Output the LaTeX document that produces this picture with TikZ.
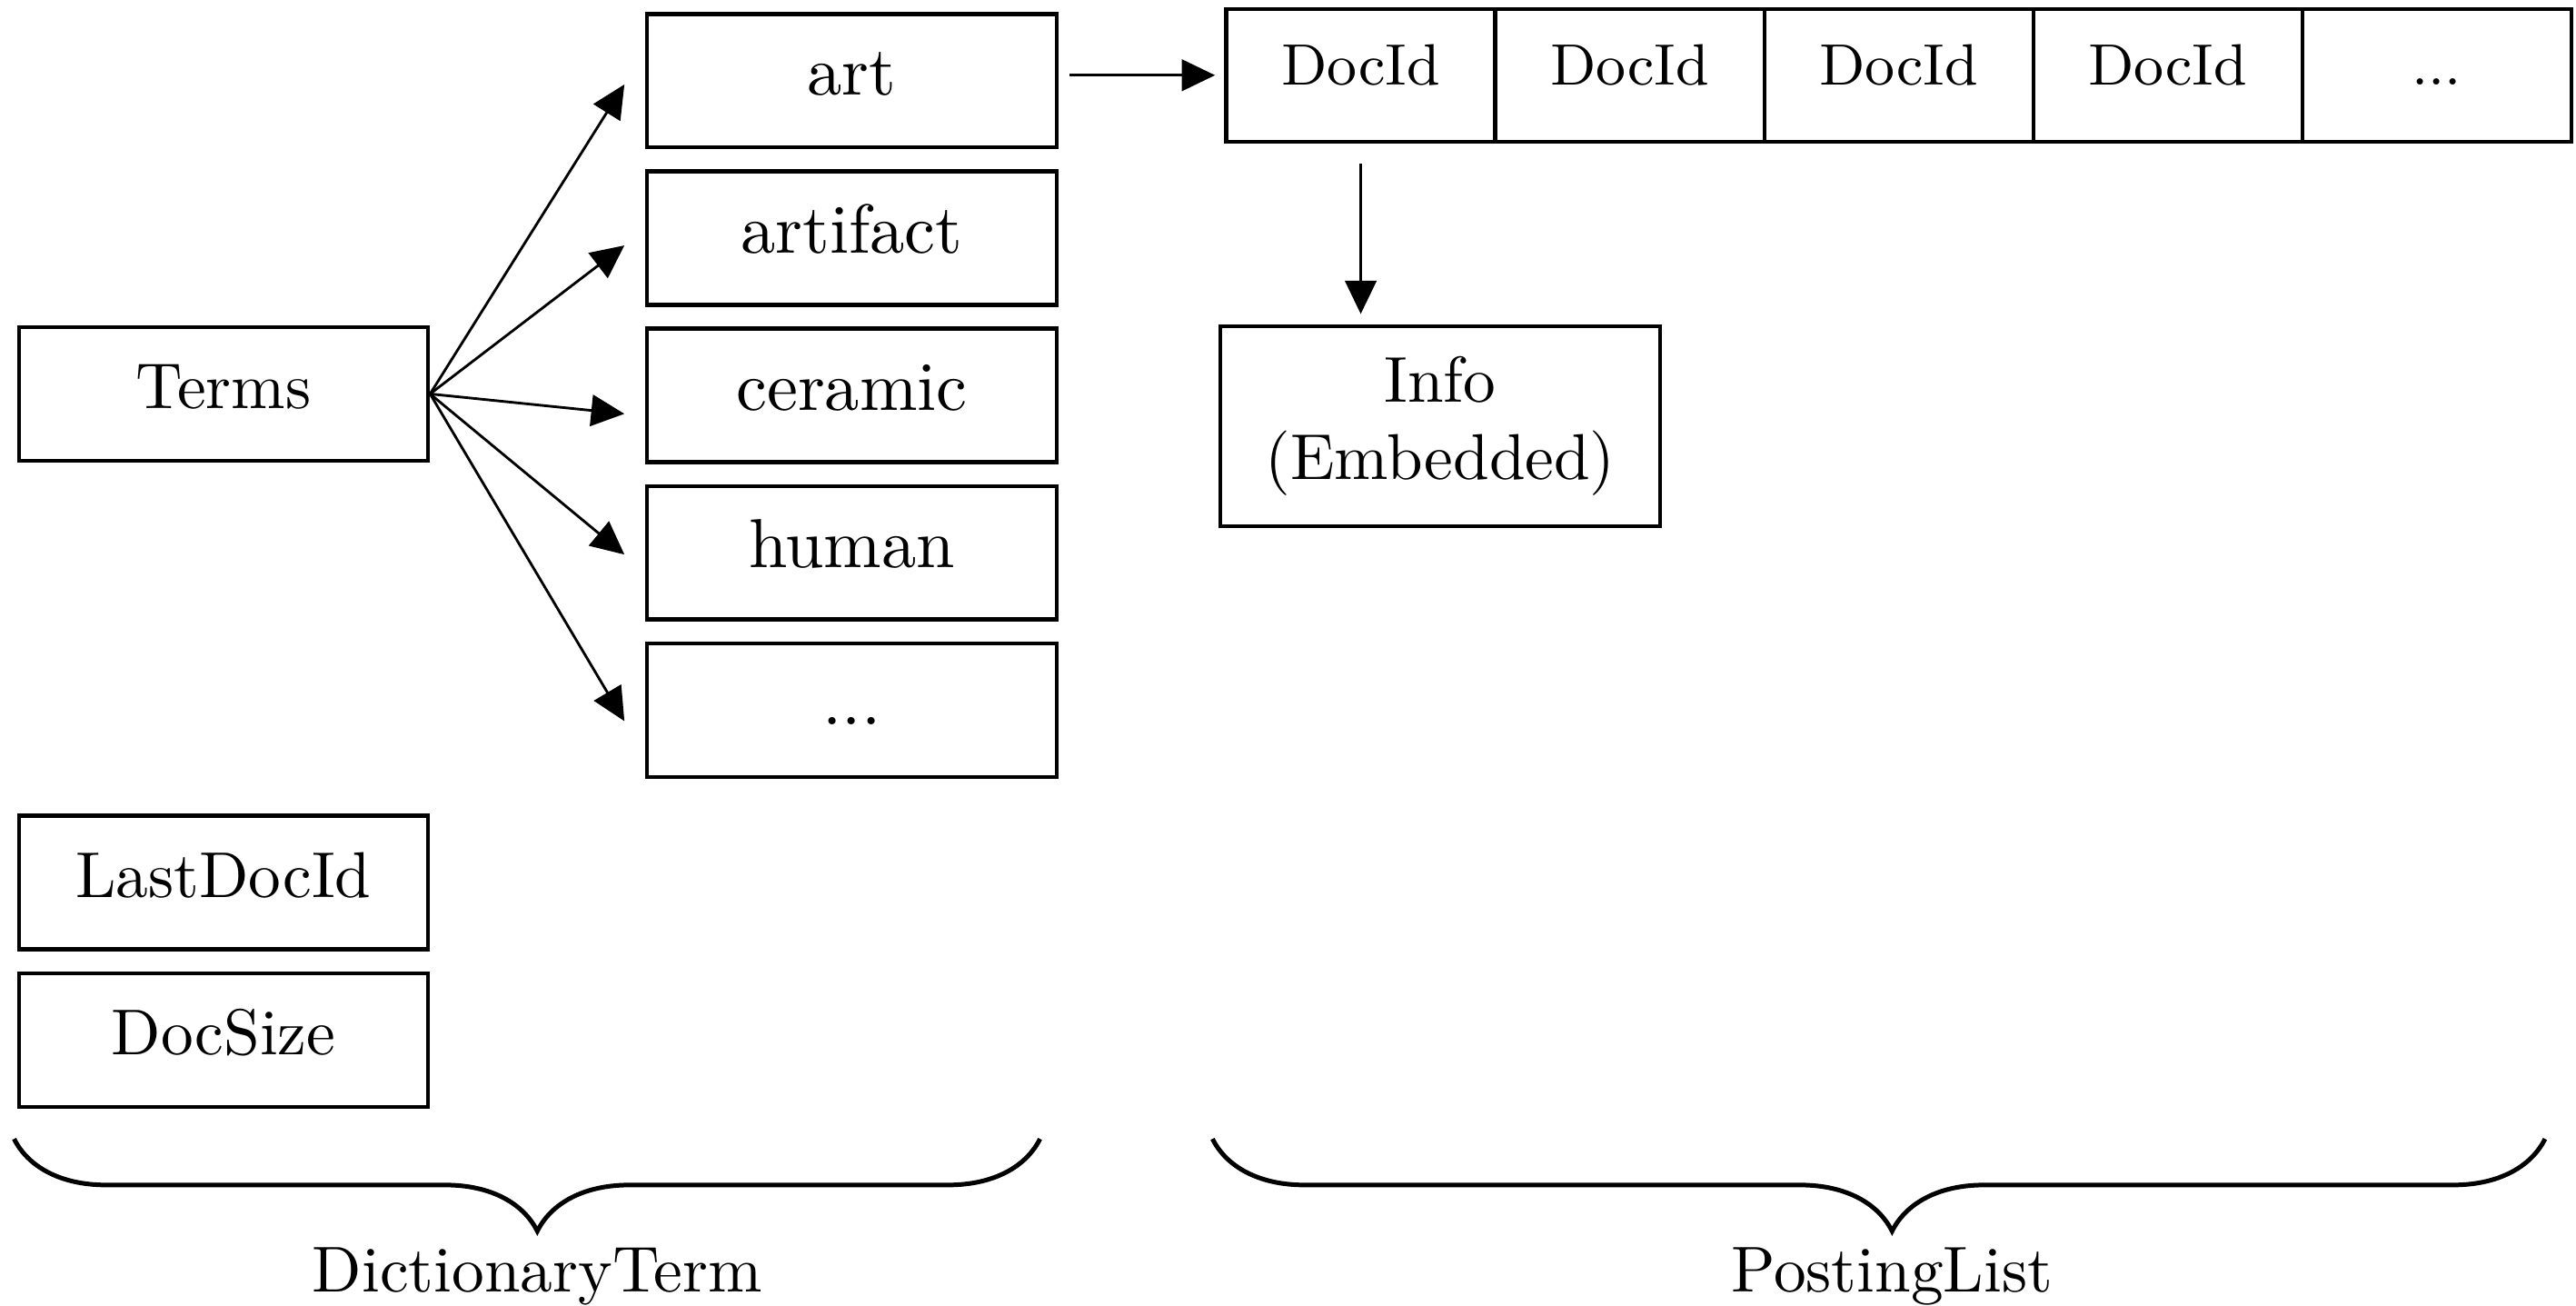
\documentclass[tikz,border=0pt]{standalone}
\usetikzlibrary{positioning, arrows.meta, decorations.pathreplacing}

\begin{document}
\begin{tikzpicture}
    [
        node distance=8.53mm and 14.59mm, on grid,
        field_node/.style={rectangle, draw=black, line width=0.6pt, inner sep=0pt, minimum width=22.2mm, minimum height=7.24mm, text height=7pt, text depth=2.5pt},
        word_node/.style={field_node, font=\fontsize{10.7}{13}\selectfont},
        doc_node/.style={rectangle, draw=black, line width=0.6pt, inner sep=0pt, minimum width=14.59mm, minimum height=7.2mm, font=\small, text height=6.1pt, text depth=3pt},
        info_node/.style={rectangle, draw=black, line width=0.6pt, inner sep=0pt, minimum width=23.85mm, minimum height=10.84mm, align=center},
        arrow_line/.style={-{Triangle[length=1.8mm, width=1.7mm]}, line width=0.4pt},
        brace_line/.style={decorate, decoration={brace, mirror, amplitude=5mm, aspect=0.51}, line width=0.7pt},
    ]
        \useasboundingbox (-1.212,2.136) rectangle (12.759,-4.945);
        % dictionary side
        \node[field_node] (terms) at (0,0) {Terms} ;
        \node[word_node] (art) [above right = 16.98mm and 34.08mm of terms] {art} ;
        \node[word_node] (artifact) [below = of art] {artifact} ;
        \node[word_node] (ceramic) [below = of artifact] {ceramic} ;
        \node[word_node] (human) [below = of ceramic] {human} ;
        \node[word_node] (dots) [below = of human] {...} ;
        \node[field_node] (lastdoc) [below = 26.49mm of terms] {LastDocId} ;
        \node[field_node] (docsize) [below = 8.55mm of lastdoc] {DocSize} ;
        % posting list
        \node[doc_node] (doc1) [above right = 0.3mm and 27.6mm of art] {DocId} ;
        \node[doc_node] (doc2) [right = of doc1] {DocId} ;
        \node[doc_node] (doc3) [right = of doc2] {DocId} ;
        \node[doc_node] (doc4) [right = of doc3] {DocId} ;
        \node[doc_node] (doc5) [right = of doc4] {...} ;
        \node[info_node] (info) [below right = 19.02mm and 4.31mm of doc1] {Info\\(Embedded)} ;
        \draw[arrow_line] (terms.east) -- ([xshift=-1.13mm, yshift=-0.2mm]art.west) ;
        \draw[arrow_line] (terms.east) -- ([xshift=-1.13mm, yshift=-0.4mm]artifact.west) ;
        \draw[arrow_line] (terms.east) -- ([xshift=-1.13mm, yshift=-1mm]ceramic.west) ;
        \draw[arrow_line] (terms.east) -- ([xshift=-1.13mm, yshift=-0.1mm]human.west) ;
        \draw[arrow_line] (terms.east) -- ([xshift=-1.13mm, yshift=-0.6mm]dots.west) ;
        \draw[arrow_line, shorten <=0.6mm, shorten >=0.5mm] (doc1.west -| art.east) -- (doc1.west) ;
        \draw[arrow_line, shorten <=1.1mm, shorten >=0.55mm] (doc1.south) -- (doc1.south |- info.north) ;
        % braces
        \coordinate (dict_left) at ([xshift=-0.15mm, yshift=-1.63mm]docsize.south west) ;
        \coordinate (dict_rx) at ([xshift=-1mm]dots.east) ;
        \coordinate (dict_right) at (dict_rx |- dict_left) ;
        \coordinate (post_lx) at ([xshift=-0.64mm]doc1.west) ;
        \coordinate (post_left) at (post_lx |- dict_left) ;
        \coordinate (post_rx) at ([xshift=-1.53mm]doc5.east) ;
        \coordinate (post_right) at (post_rx |- dict_left) ;
        \draw[brace_line] (dict_left) -- node[pos=0.51, below=4.6mm] {DictionaryTerm} (dict_right) ;
        \draw[brace_line] (post_left) -- node[pos=0.51, below=4.6mm] {PostingList} (post_right) ;
\end{tikzpicture}
\end{document}
